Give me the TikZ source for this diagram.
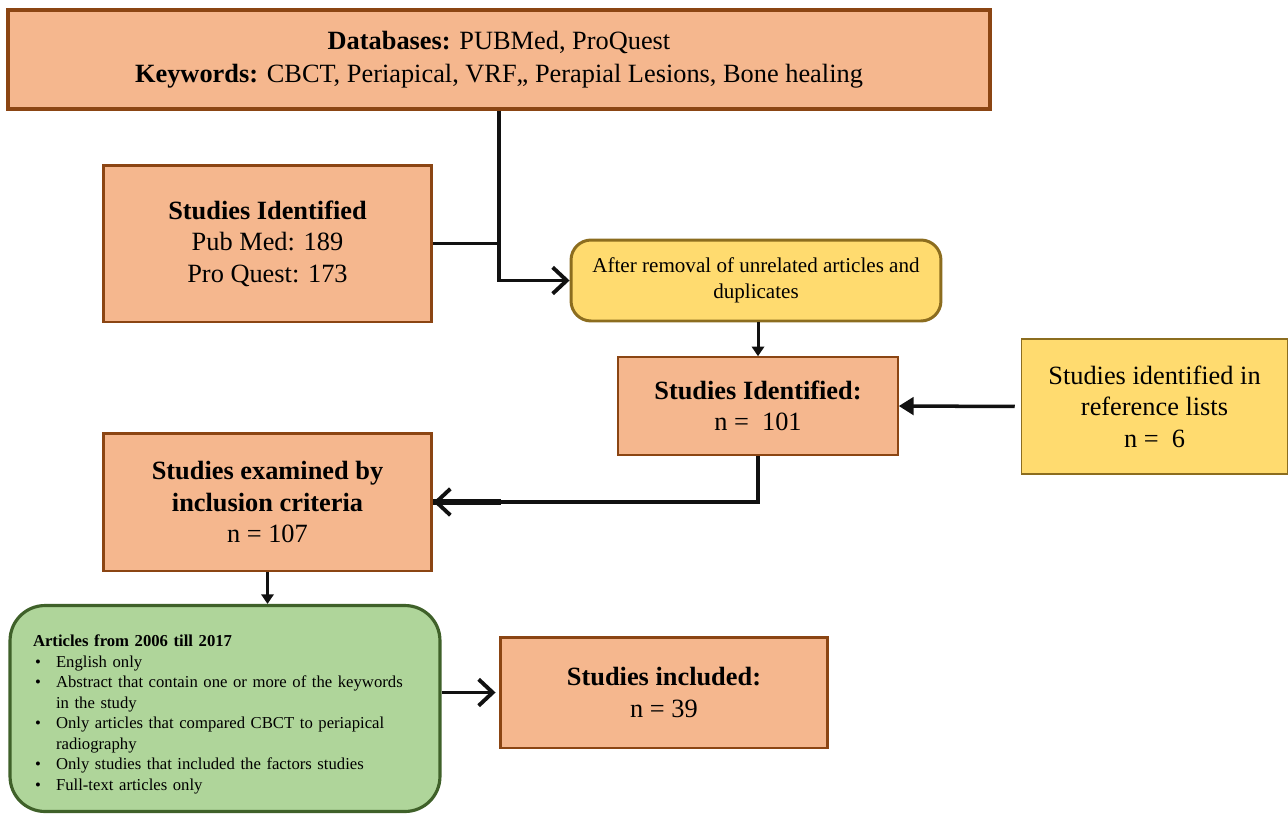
\documentclass[tikz,border=0pt]{standalone}
\usepackage{fontspec}
\setmainfont{Liberation Serif}
\usepackage{tikz}
\usetikzlibrary{arrows.meta, positioning, calc}
\definecolor{boxorange}{HTML}{F5B78E}
\definecolor{boxbrown}{HTML}{8B4513}
\definecolor{boxyellow}{HTML}{FFDB6F}
\definecolor{yellowedge}{HTML}{8C6D1F}
\definecolor{boxgreen}{HTML}{AFD59A}
\definecolor{greenedge}{HTML}{3F6129}
\definecolor{linkgray}{HTML}{111111}

\begin{document}
\begin{tikzpicture}[x=0.02cm, y=-0.02cm,
  orangebox/.style={rectangle, draw=boxbrown, fill=boxorange, line width=1.7pt, align=center, font=\fontsize{15}{18}\selectfont},
  thinbox/.style={orangebox, line width=0.9pt},
  yellowbox/.style={rectangle, draw=yellowedge, fill=boxyellow, line width=0.9pt, align=center, font=\fontsize{15}{18}\selectfont},
  greenbox/.style={rectangle, rounded corners=0.7cm, draw=greenedge, fill=boxgreen, line width=1.8pt, align=left, font=\fontsize{9.5}{11.7}\selectfont},
  link/.style={draw=linkgray, line width=2.2pt},
  arrow/.style={link, -{Straight Barb[length=8pt, width=15pt]}},
  smallarrow/.style={draw=linkgray, line width=1.7pt, -{Triangle[length=5.5pt, width=7pt]}}
]
  \useasboundingbox (0,0) rectangle (1288,816);

  \node[orangebox, line width=2.2pt, minimum width=19.64cm, minimum height=1.98cm] (db) at (499,59.5)
    {\textbf{Databases:} PUBMed, ProQuest\\[1pt]
     \textbf{Keywords:} CBCT, Periapical, VRF,, Perapial Lesions, Bone healing};
  \node[orangebox, minimum width=6.58cm, minimum height=3.14cm] (ident) at (267.5,243.5)
    {\textbf{Studies Identified}\\Pub Med: 189\\Pro Quest: 173};
  \node[yellowbox, rounded corners=0.4cm, line width=1.7pt, minimum width=7.4cm, minimum height=1.62cm,
        font=\fontsize{12}{14.7}\selectfont] (after) at (756,280.5)
    {After removal of unrelated articles and\\duplicates};
  \node[thinbox, minimum width=5.6cm, minimum height=1.96cm] (n101) at (758,406)
    {\textbf{Studies Identified:}\\n =\ \ 101};
  \node[yellowbox, minimum width=5.32cm, minimum height=2.7cm] (reflist) at (1154.5,406.5)
    {Studies identified in\\reference lists\\n =\ \ 6};
  \node[orangebox, minimum width=6.58cm, minimum height=2.76cm] (exam) at (267.5,502)
    {\textbf{Studies examined by}\\\textbf{inclusion criteria}\\n = 107};
  \node[greenbox, minimum width=8.6cm, minimum height=4.12cm, text width=7.68cm] (crit) at (225,708.5)
    {\rule{0pt}{13.5pt}\textbf{Articles from 2006 till 2017}\\
     \makebox[0.46cm][l]{\hspace{0.04cm}\textbullet}English only\\
     \makebox[0.46cm][l]{\hspace{0.04cm}\textbullet}Abstract that contain one or more of the keywords\\
     \hspace*{0.46cm}in the study\\
     \makebox[0.46cm][l]{\hspace{0.04cm}\textbullet}Only articles that compared CBCT to periapical\\
     \hspace*{0.46cm}radiography\\
     \makebox[0.46cm][l]{\hspace{0.04cm}\textbullet}Only studies that included the factors studies\\
     \makebox[0.46cm][l]{\hspace{0.04cm}\textbullet}Full-text articles only};
  \node[orangebox, minimum width=6.56cm, minimum height=2.22cm] (incl) at (664,692.5)
    {\textbf{Studies included:}\\n = 39};

  % connectors
  \coordinate (join) at (499,243.5);
  \draw[link] (ident.east) -- (join);
  \draw[arrow] (db.south -| join) |- (after.west);
  \draw[smallarrow] (after.south -| n101.south) -- (n101.north);
  \draw[draw=linkgray, line width=2pt, -{Triangle[length=8.5pt, width=10pt]}, shorten <=0.12cm] (reflist.west) -- (n101.east);
  \draw[arrow] (n101.south) |- (exam.east);
  \draw[link, line width=3.4pt] (exam.east) -- ++(68,0);
  \draw[smallarrow] (exam.south) -- (crit.north -| exam.south);
  \draw[arrow, shorten >=0.06cm] (crit.east |- incl.west) -- (incl.west);
\end{tikzpicture}
\end{document}
